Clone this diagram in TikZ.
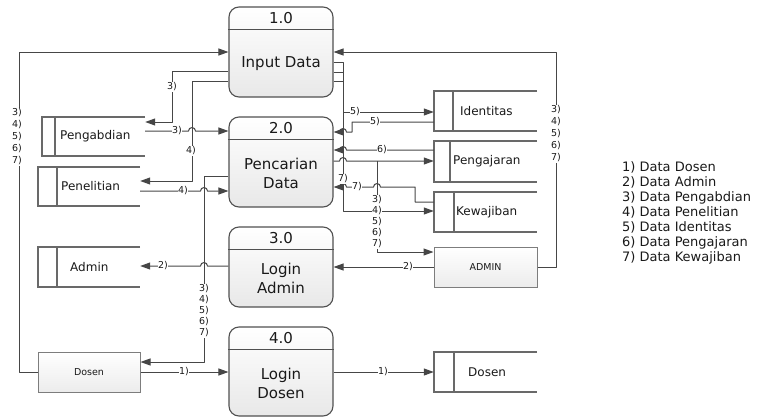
\documentclass[tikz,border=0pt]{standalone}
\usepackage{fontspec}
\setmainfont{DejaVu Sans}
\usetikzlibrary{arrows.meta}

\definecolor{linec}{RGB}{70,70,70}
\definecolor{boxc}{RGB}{80,80,80}
\definecolor{storec}{RGB}{105,105,105}
\definecolor{entc}{RGB}{125,125,125}
\definecolor{txtc}{RGB}{25,25,25}
\definecolor{shadec}{RGB}{232,232,232}
\definecolor{headc}{RGB}{236,236,236}

\tikzset{
  flow/.style={draw=linec, line width=1pt, line join=round, -{Triangle[length=10pt,width=7pt]}},
  wire/.style={draw=linec, line width=1pt},
  lbl/.style={fill=white, inner sep=0.6pt, text=txtc, align=left, font=\fontsize{9.5}{11}\selectfont},
  proc/.style={draw=boxc, line width=1.1pt, rounded corners=10pt, minimum width=104pt,
    top color=white, bottom color=shadec, inner sep=0pt},
  divider/.style={draw=boxc, line width=1pt},
  numtxt/.style={text=txtc, font=\fontsize{15}{18}\selectfont},
  bodytxt/.style={text=txtc, align=center, font=\fontsize{15}{19}\selectfont},
  storeline/.style={draw=storec, line width=1.1pt},
  storetxt/.style={text=txtc, inner sep=0pt, font=\fontsize{12}{14}\selectfont},
  entity/.style={draw=entc, line width=1pt, top color=white, bottom color=headc,
    minimum height=40pt, inner sep=0pt, text=txtc, font=\fontsize{9.5}{11}\selectfont},
  legend/.style={text=txtc, align=left, inner sep=0pt, font=\fontsize{13}{15}\selectfont},
}

% process: name, centre x, centre y, height, number, title
\newcommand\process[6]{%
  \node[proc, minimum height=#4] (#1) at (#2,#3) {};
  \draw[divider] ([yshift=-23.5pt]#1.north west) -- ([yshift=-23.5pt]#1.north east);
  \node[numtxt] (#1-n) at ([yshift=-12pt]#1.north) {#5};
  \node[bodytxt] (#1-b) at ([yshift=-11.75pt]#1.center) {#6};
}

% open-ended data store: name, left, inner bar, right, top, bottom, text x, text
\newcommand\datastore[8]{%
  \node[inner sep=0pt, minimum width={#4-#2}, minimum height={#6-#5}] (#1) at ({(#2+#4)/2},{(#5+#6)/2}) {};
  \draw[storeline] (#4,#5) -- (#2,#5) -- (#2,#6) -- (#4,#6);
  \draw[storeline] (#3,#5) -- (#3,#6);
  \node[storetxt, anchor=west] (#1-t) at (#7,{(#5+#6)/2}) {#8};
}

\begin{document}
\begin{tikzpicture}[x=1pt,y=-1pt]
\useasboundingbox (0,0) rectangle (758,418);

% processes
\process{p1}{281}{52}{90}{1.0}{Input Data}
\process{p2}{281}{162}{90}{2.0}{Pencarian\\Data}
\process{p3}{281}{267}{80}{3.0}{Login\\Admin}
\process{p4}{281}{371.5}{89}{4.0}{Login\\Dosen}

% data stores
\datastore{sPeng}{42}{55}{145}{117}{156}{60}{Pengabdian}
\datastore{sPen}{38}{57}{140}{167}{206}{61}{Penelitian}
\datastore{sAdm}{38}{57}{140}{247}{287}{70}{Admin}
\datastore{sId}{434}{453}{537}{91}{131}{460}{Identitas}
\datastore{sPj}{434}{450}{537}{141}{182}{453}{Pengajaran}
\datastore{sKw}{434}{454}{537}{192}{232}{456}{Kewajiban}
\datastore{sDos}{434}{454}{537}{352}{392}{468}{Dosen}

% external entities
\node[entity, minimum width=102pt] (eDos) at (89,372) {Dosen};
\node[entity, minimum width=103pt] (eAdm) at (485.5,267) {ADMIN};

% left side flows
\draw[flow] (eDos.west) -| (19,52) -- (p1.west |- 0,52);
\node[lbl, font=\fontsize{9.5}{12}\selectfont] (l1) at (17,137) {3)\\4)\\5)\\6)\\7)};

\draw[flow] (p1.west |- 0,71) -| (172,122) -- (sPeng.east |- 0,122);
\node[lbl] (l3a) at (172,87) {3)};

\draw[flow] (p1.west |- 0,81) -| (192,181) -- (sPen.east |- 0,181);
\node[lbl] (l4a) at (191,151) {4)};

\draw[flow] (sPeng.east |- 0,131) -- (188.5,131) arc[start angle=180,end angle=360,radius=3.5] -- (p2.west |- 0,131);
\node[lbl] (l3b) at (177,131) {3)};

\draw[flow] (sPen.east |- 0,191) -- (200.5,191) arc[start angle=180,end angle=360,radius=3.5] -- (p2.west |- 0,191);
\node[lbl] (l4b) at (183,191) {4)};

\draw[flow] (p2.west |- 0,176) -| (204,362) -- (eDos.east |- 0,362);
\node[lbl] (l7s) at (204,311) {3)\\4)\\5)\\6)\\7)};

\draw[flow] (p3.west |- 0,266) -- (207.5,266) arc[start angle=0,end angle=-180,radius=3.5] -- (sAdm.east |- 0,266);
\node[lbl] (l2a) at (163,266) {2)};

\draw[flow] (eAdm.west) -- (p3.east);
\node[lbl] (l2b) at (408,267) {2)};

\draw[flow] (eDos.east) -- (p4.west |- eDos.east);
\node[lbl] (l1a) at (184,372) {1)};

\draw[flow] (p4.east |- sDos.west) -- (sDos.west);
\node[lbl] (l1b) at (383,372) {1)};

% right side flows
\draw[flow] (eAdm.east) -| (556,52) -- (p1.east |- 0,52);
\node[lbl, font=\fontsize{9.5}{12}\selectfont] (r1) at (556,134) {3)\\4)\\5)\\6)\\7)};

\draw[flow] (p1.east |- 0,62) -- (343,62) -- (343,211) -- (sKw.west |- 0,211);
\draw[wire] (p1.east |- 0,72) -- (343,72);
\draw[wire] (p1.east |- 0,81) -- (343,81);
\draw[flow] (343,112) -- (sId.west |- 0,112);
\node[lbl] (l5a) at (355,112) {5)};

\draw[flow] (sId.west |- 0,122) -| (352,132) -- (346.5,132) arc[start angle=0,end angle=-180,radius=3.5] -- (p2.east |- 0,132);
\node[lbl] (l5b) at (375,122) {5)};

\draw[flow] (sPj.west |- 0,150) -- (346.5,150) arc[start angle=0,end angle=-180,radius=3.5] -- (p2.east |- 0,150);
\node[lbl] (l6a) at (382,150) {6)};

\draw[flow] (p2.east |- 0,161) -- (339.5,161) arc[start angle=180,end angle=360,radius=3.5] -- (sPj.west |- 0,161);
\draw[flow] (377,161) -- (377,252) -- (eAdm.west |- 0,252);

\draw[flow] (sKw.west |- 0,202) -| (415,187) -- (380.5,187) arc[start angle=0,end angle=-180,radius=3.5]
  -- (346.5,187) arc[start angle=0,end angle=-180,radius=3.5] -- (p2.east |- 0,187);
\node[lbl] (l7a) at (357,187) {7)};
\node[lbl] (l7b) at (343,179) {7)};
\node[lbl] (r2) at (377,222) {3)\\4)\\5)\\6)\\7)};

% key to the flow numbers
\node[legend, anchor=west] (key) at (622,213) {1) Data Dosen\\2) Data Admin\\3) Data Pengabdian\\4) Data Penelitian\\5) Data Identitas\\6) Data Pengajaran\\7) Data Kewajiban};
\end{tikzpicture}
\end{document}
